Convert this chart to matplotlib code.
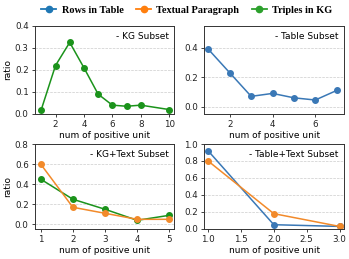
import matplotlib
matplotlib.use("Agg")
import matplotlib.pyplot as plt
from matplotlib.lines import Line2D

# -- data --------------------------------------
kg_x = [1, 2, 3, 4, 5, 6, 7, 8, 10]
kg_triples = [0.02, 0.22, 0.325, 0.21, 0.09, 0.04, 0.035, 0.04, 0.02]

table_x = [1, 2, 3, 4, 5, 6, 7]
table_rows = [0.39, 0.23, 0.07, 0.09, 0.06, 0.045, 0.11]

kgtext_x = [1, 2, 3, 4, 5]
kgtext_triples = [0.45, 0.25, 0.15, 0.04, 0.09]
kgtext_para = [0.60, 0.17, 0.11, 0.05, 0.05]

tabtext_x = [1, 2, 3]
tabtext_rows = [0.92, 0.05, 0.03]
tabtext_para = [0.80, 0.18, 0.03]

series_names = ["Rows in Table", "Textual Paragraph", "Triples in KG"]

c_blue = "#3a78b6"
c_orange = "#f28a2a"
c_green = "#1b931b"

plt.rcParams["font.family"] = ["DejaVu Sans"]
plt.rcParams["font.size"] = 6.5

fig = plt.figure(figsize=(3.49, 2.59), dpi=100)

# axes boxes in figure fractions: left col / right col, top row / bottom row
lx, lw = 0.100, 0.399
rx, rw = 0.585, 0.401
ty, th = 0.560, 0.340
by, bh = 0.116, 0.328

ax_kg = fig.add_axes([lx, ty, lw, th])
ax_tab = fig.add_axes([rx, ty, rw, th])
ax_kgt = fig.add_axes([lx, by, lw, bh])
ax_tabt = fig.add_axes([rx, by, rw, bh])

line_kw = dict(marker="o", markersize=4, linewidth=1.1)

ax_kg.plot(kg_x, kg_triples, color=c_green, **line_kw)
ax_kg.set_xlim(0.55, 10.35)
ax_kg.set_ylim(0, 0.4)
ax_kg.set_xticks([2, 4, 6, 8, 10])
ax_kg.set_yticks([0.0, 0.1, 0.2, 0.3, 0.4])

ax_tab.plot(table_x, table_rows, color=c_blue, **line_kw)
ax_tab.set_xlim(0.8, 7.35)
ax_tab.set_ylim(-0.05, 0.55)
ax_tab.set_xticks([2, 4, 6])
ax_tab.set_yticks([0.0, 0.2, 0.4])

ax_kgt.plot(kgtext_x, kgtext_triples, color=c_green, **line_kw)
ax_kgt.plot(kgtext_x, kgtext_para, color=c_orange, **line_kw)
ax_kgt.set_xlim(0.82, 5.15)
ax_kgt.set_ylim(-0.046, 0.8)
ax_kgt.set_xticks([1, 2, 3, 4, 5])
ax_kgt.set_yticks([0.0, 0.2, 0.4, 0.6, 0.8])

ax_tabt.plot(tabtext_x, tabtext_rows, color=c_blue, **line_kw)
ax_tabt.plot(tabtext_x, tabtext_para, color=c_orange, **line_kw)
ax_tabt.set_xlim(0.94, 3.07)
ax_tabt.set_ylim(0, 1.0)
ax_tabt.set_xticks([1.0, 1.5, 2.0, 2.5, 3.0])
ax_tabt.set_yticks([0.0, 0.2, 0.4, 0.6, 0.8, 1.0])

labels = ["- KG Subset", "- Table Subset", "- KG+Text Subset", "- Table+Text Subset"]
for ax, lab in zip([ax_kg, ax_tab, ax_kgt, ax_tabt], labels):
    ax.grid(axis="y", linestyle="--", linewidth=0.5, color="#cccccc")
    ax.set_axisbelow(True)
    for s in ax.spines.values():
        s.set_color("#333333")
        s.set_linewidth(0.7)
    ax.tick_params(length=2.5, width=0.6, pad=2, labelsize=6.3, colors="#222222")
    ax.set_xlabel("num of positive unit", fontsize=6.5, labelpad=1)
    ax.text(0.96, 0.88, lab, transform=ax.transAxes, ha="right", va="center",
            fontsize=6.5)

ax_kg.set_ylabel("ratio", fontsize=6.5, labelpad=2)
ax_kgt.set_ylabel("ratio", fontsize=6.5, labelpad=2)

handles = [Line2D([], [], color=c, marker="o", markersize=4.5, linewidth=1.3)
           for c in ["#1f77b4", "#ff7f0e", "#2ca02c"]]
fig.legend(handles, series_names, loc="upper center", bbox_to_anchor=(0.535, 1.015),
           ncol=3, frameon=False, handlelength=1.5, columnspacing=1.2, handletextpad=0.5,
           prop=dict(family="Liberation Serif", weight="bold", size=7.4))

fig.savefig("out.png", dpi=100)
